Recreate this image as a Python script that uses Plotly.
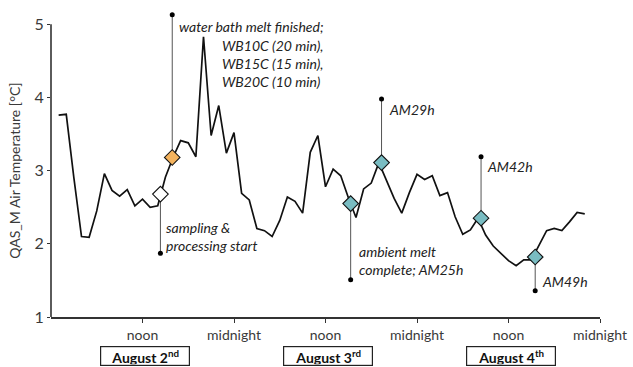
import plotly.graph_objects as go

# ---- data (hours since Aug 2, 00:00) ----
hours = list(range(1, 71))
temps = [3.76, 3.77, 2.90, 2.10, 2.09, 2.45, 2.96, 2.73, 2.65, 2.74,
         2.52, 2.61, 2.50, 2.52, 2.91, 3.18, 3.41, 3.38, 3.19, 4.83,
         3.48, 3.89, 3.24, 3.52, 2.69, 2.60, 2.21, 2.18, 2.10, 2.32,
         2.64, 2.58, 2.42, 3.25, 3.48, 2.78, 3.02, 2.93, 2.63, 2.36,
         2.75, 2.83, 3.11, 2.86, 2.62, 2.42, 2.70, 2.95, 2.88, 2.93,
         2.66, 2.70, 2.37, 2.13, 2.19, 2.35, 2.12, 1.97, 1.87, 1.77,
         1.70, 1.78, 1.78, 1.97, 2.18, 2.21, 2.18, 2.30, 2.43, 2.41]

event_hours = [14.35, 15.9, 39.3, 43.35, 56.4, 63.5]
event_temps = [2.68, 3.18, 2.55, 3.11, 2.35, 1.82]
event_ends = [1.87, 5.13, 1.51, 3.98, 3.19, 1.36]
event_colors = ["#ffffff", "#F4B35E", "#79BCC2", "#79BCC2", "#79BCC2", "#79BCC2"]

tick_hours = [12, 24, 36, 48, 60, 72]
tick_labels = ["noon", "midnight", "noon", "midnight", "noon", "midnight"]
y_ticks = [1, 2, 3, 4, 5]
y_title = "QAS_M Air Temperature [°C]"

day_labels = ["August 2<sup>nd</sup>", "August 3<sup>rd</sup>", "August 4<sup>th</sup>"]
day_centers = [12.3, 36.3, 60.3]

FONT = "Lato"
TXT = "#3a3a3a"

fig = go.Figure()

# stems
sx, sy = [], []
for h, t, e in zip(event_hours, event_temps, event_ends):
    sx += [h, h, None]
    sy += [t, e, None]
fig.add_trace(go.Scatter(x=sx, y=sy, mode="lines",
                         line=dict(color="#555555", width=1), hoverinfo="skip"))
# end dots
fig.add_trace(go.Scatter(x=event_hours, y=event_ends, mode="markers",
                         marker=dict(color="black", size=5), cliponaxis=False))
# temperature line
fig.add_trace(go.Scatter(x=hours, y=temps, mode="lines",
                         line=dict(color="#111111", width=1.7)))
# event diamonds
fig.add_trace(go.Scatter(x=event_hours, y=event_temps, mode="markers",
                         marker=dict(symbol="diamond", size=12, color=event_colors,
                                     line=dict(color="#111111", width=1.1)),
                         cliponaxis=False))

# y-axis line from 1 to 5
fig.add_shape(type="line", xref="paper", yref="y", x0=0, x1=0,
              y0=y_ticks[0], y1=y_ticks[-1], line=dict(color="#333333", width=1.6))

# y-axis title centred on the 1..5 span
fig.add_annotation(x=0, xref="paper", xshift=-36, y=(y_ticks[0] + y_ticks[-1]) / 2,
                   yref="y", text=y_title, textangle=-90, showarrow=False,
                   xanchor="center", yanchor="middle",
                   font=dict(family=FONT, size=14, color=TXT))

ann_font = dict(family=FONT, size=14, color="#222222")
notes = [
    (16.5, 4.97, "<i>water bath melt finished;</i>"),
    (22.1, 4.47, "<i>WB10C (20 min),<br>WB15C (15 min),<br>WB20C (10 min)</i>"),
    (14.8, 2.10, "<i>sampling &amp;<br>processing start</i>"),
    (40.1, 1.77, "<i>ambient melt<br>complete; AM25h</i>"),
    (44.0, 3.83, "<i>AM29h</i>"),
    (56.9, 3.05, "<i>AM42h</i>"),
    (64.1, 1.49, "<i>AM49h</i>"),
]
for x, y, t in notes:
    fig.add_annotation(x=x, y=y, text=t, showarrow=False, xanchor="left",
                       yanchor="middle", align="left", font=ann_font)

for c, lab in zip(day_centers, day_labels):
    fig.add_annotation(x=c, y=-0.127, yref="paper", text="<b>" + lab + "</b>",
                       showarrow=False, xanchor="center", yanchor="middle",
                       bordercolor="#222222", borderwidth=1.2, borderpad=1,
                       width=86, height=16,
                       font=dict(family=FONT, size=14, color="#111111"))

fig.update_layout(
    width=633, height=367,
    margin=dict(l=51, r=31, t=6, b=50),
    paper_bgcolor="white", plot_bgcolor="white",
    showlegend=False,
    font=dict(family=FONT, color=TXT),
    xaxis=dict(range=[0, 72], tickvals=tick_hours, ticktext=tick_labels,
               showgrid=False, zeroline=False, showline=True,
               linecolor="#333333", linewidth=1.6,
               ticks="outside", ticklen=4, tickcolor="#333333",
               tickfont=dict(family=FONT, size=14, color=TXT)),
    yaxis=dict(range=[1, 5.25], tickvals=y_ticks,
               showgrid=False, zeroline=False, showline=False,
               ticks="outside", ticklen=3, tickcolor="#333333",
               tickfont=dict(family=FONT, size=16, color=TXT)),
)

fig.write_html("out.html")
